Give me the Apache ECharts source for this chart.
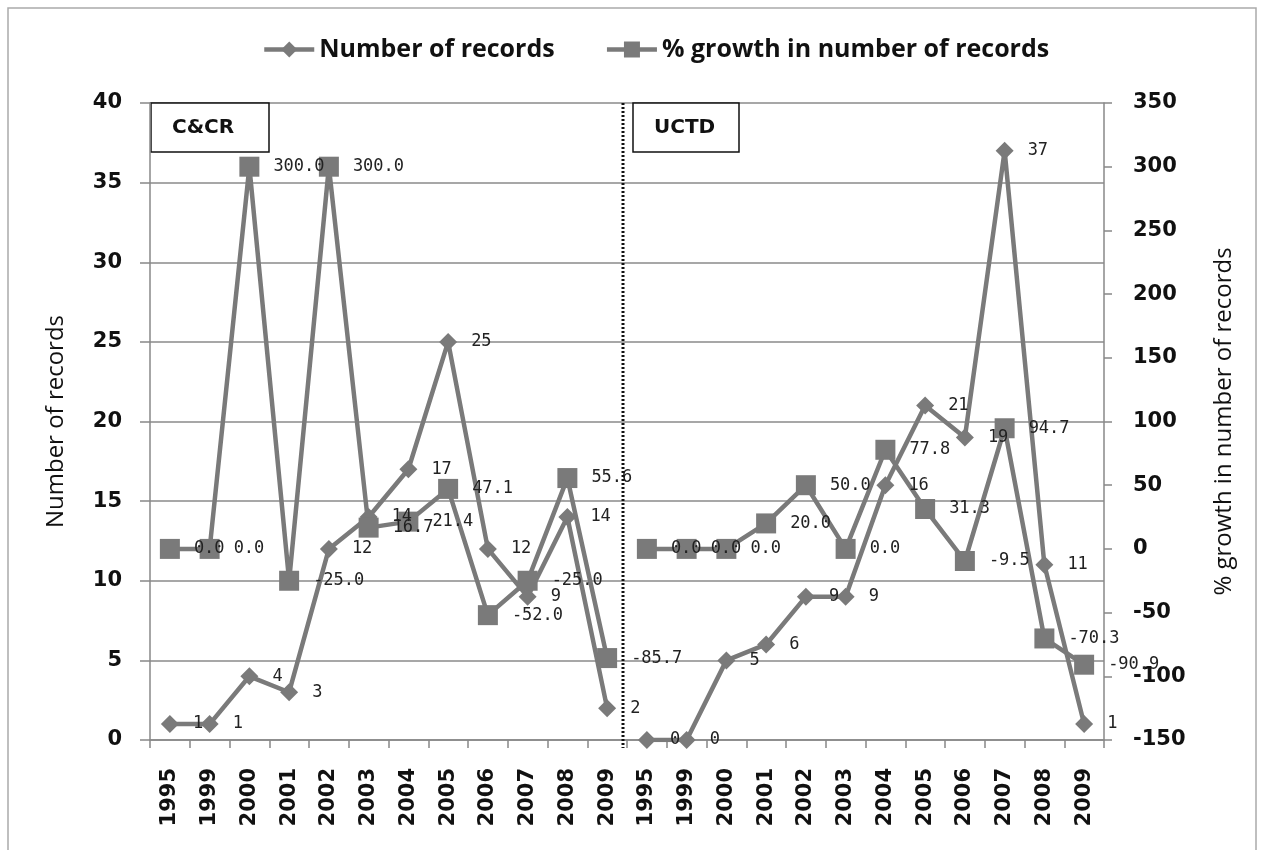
<!DOCTYPE html>
<html>
<head>
<meta charset="utf-8">
<script src="https://cdn.jsdelivr.net/npm/echarts@6/dist/echarts.min.js"></script>
<style>
html, body { margin: 0; padding: 0; background: #fff; }
#main { width: 1262px; height: 850px; }
</style>
</head>
<body>
<div id="main"></div>
<script>
// years on the x axis, repeated for the two panels
var years = ['1995', '1999', '2000', '2001', '2002', '2003', '2004', '2005', '2006', '2007', '2008', '2009'];
var categories = years.concat(years);

// C&CR panel
var ccrRecords = [1, 1, 4, 3, 12, 14, 17, 25, 12, 9, 14, 2];
var ccrGrowth = [0, 0, 300, -25, 300, 16.7, 21.4, 47.1, -52, -25, 55.6, -85.7];

// UCTD panel
var uctdRecords = [0, 0, 5, 6, 9, 9, 16, 21, 19, 37, 11, 1];
var uctdGrowth = [0, 0, 0, 20, 50, 0, 77.8, 31.3, -9.5, 94.7, -70.3, -90.9];

var panelNames = ['C&CR', 'UCTD'];

var GRAY = '#7a7a7a';
var pad = years.map(function () { return '-'; });

function recordSeries(data) {
    return {
        name: 'Number of records',
        type: 'line',
        yAxisIndex: 0,
        symbol: 'diamond',
        symbolSize: 18,
        itemStyle: { color: GRAY },
        lineStyle: { color: GRAY, width: 4.5 },
        label: {
            show: true,
            position: 'right',
            distance: 14,
            fontFamily: 'DejaVu Sans Mono',
            fontSize: 17,
            color: '#222'
        },
        data: data
    };
}

function growthSeries(data) {
    return {
        name: '% growth in number of records',
        type: 'line',
        yAxisIndex: 1,
        symbol: 'rect',
        symbolSize: 20,
        itemStyle: { color: GRAY },
        lineStyle: { color: GRAY, width: 4.5 },
        label: {
            show: true,
            position: 'right',
            distance: 14,
            fontFamily: 'DejaVu Sans Mono',
            fontSize: 17,
            color: '#222',
            formatter: function (p) { return Number(p.value).toFixed(1); }
        },
        data: data
    };
}

var axisFont = { fontFamily: 'DejaVu Sans', fontWeight: 'bold', fontSize: 21, color: '#111' };
var nameFont = { fontFamily: 'Open Sans', fontSize: 24, color: '#111' };

var option = {
    animation: false,
    backgroundColor: '#fff',
    legend: {
        top: 32,
        left: 257,
        itemWidth: 50,
        itemHeight: 20,
        itemGap: 50,
        lineStyle: { width: 4.5 },
        textStyle: { fontFamily: 'Open Sans', fontWeight: 'bold', fontSize: 25, color: '#111' },
        data: ['Number of records', '% growth in number of records']
    },
    grid: { left: 150, right: 158, top: 103, bottom: 110 },
    xAxis: {
        type: 'category',
        data: categories,
        boundaryGap: true,
        axisLine: { lineStyle: { color: '#888', width: 1.5 } },
        axisTick: { show: true, length: 8, lineStyle: { color: '#888', width: 1.5 } },
        axisLabel: Object.assign({ rotate: 90, interval: 0, margin: 28 }, axisFont)
    },
    yAxis: [
        {
            type: 'value',
            min: 0,
            max: 40,
            interval: 5,
            name: 'Number of records',
            nameLocation: 'middle',
            nameGap: 82,
            nameTextStyle: nameFont,
            axisLine: { show: true, lineStyle: { color: '#888', width: 1.5 } },
            axisTick: { show: true, length: 10, lineStyle: { color: '#888', width: 1.5 } },
            axisLabel: Object.assign({ margin: 28 }, axisFont),
            splitLine: { show: true, lineStyle: { color: '#8a8a8a', width: 1.5 } }
        },
        {
            type: 'value',
            min: -150,
            max: 350,
            interval: 50,
            position: 'right',
            name: '% growth in number of records',
            nameLocation: 'middle',
            nameGap: 108,
            nameTextStyle: nameFont,
            axisLine: { show: true, lineStyle: { color: '#888', width: 1.5 } },
            axisTick: { show: true, length: 8, lineStyle: { color: '#888', width: 1.5 } },
            axisLabel: Object.assign({ margin: 29 }, axisFont),
            splitLine: { show: false }
        }
    ],
    series: [
        recordSeries(ccrRecords),
        recordSeries(pad.concat(uctdRecords)),
        growthSeries(ccrGrowth),
        growthSeries(pad.concat(uctdGrowth))
    ]
};

var myChart = echarts.init(document.getElementById('main'), null, { renderer: 'canvas' });
myChart.setOption(option);

// panel divider and panel name boxes, placed from the axis scales
var n = years.length;
var xLeft = myChart.convertToPixel({ xAxisIndex: 0 }, 0);
var xA = myChart.convertToPixel({ xAxisIndex: 0 }, n - 1);
var xB = myChart.convertToPixel({ xAxisIndex: 0 }, n);
var step = xB - xA;
var divX = (xA + xB) / 2 - 4;
var yTop = myChart.convertToPixel({ yAxisIndex: 0 }, 40);
var yBottom = myChart.convertToPixel({ yAxisIndex: 0 }, 0);
var gridLeft = xLeft - step / 2;

function panelBox(x, w, text) {
    return {
        type: 'group',
        x: x,
        y: yTop,
        children: [
            { type: 'rect', shape: { x: 0, y: 0, width: w, height: 49 },
              style: { fill: '#fff', stroke: '#111', lineWidth: 1.5 } },
            { type: 'text', x: 21, y: 25,
              style: { text: text, fill: '#111', font: 'bold 20px "DejaVu Sans"', verticalAlign: 'middle' } }
        ]
    };
}

myChart.setOption({
    graphic: [
        { type: 'rect', shape: { x: 8, y: 8, width: 1248, height: 850 },
          style: { fill: 'none', stroke: '#aaa', lineWidth: 1.5 }, silent: true },
        { type: 'line', shape: { x1: divX, y1: yTop, x2: divX, y2: yBottom + 8 },
          style: { stroke: '#111', lineWidth: 3, lineDash: [2, 2] }, z: 10 },
        panelBox(gridLeft + 1, 118, panelNames[0]),
        panelBox(divX + 10, 106, panelNames[1])
    ]
});
</script>
</body>
</html>
